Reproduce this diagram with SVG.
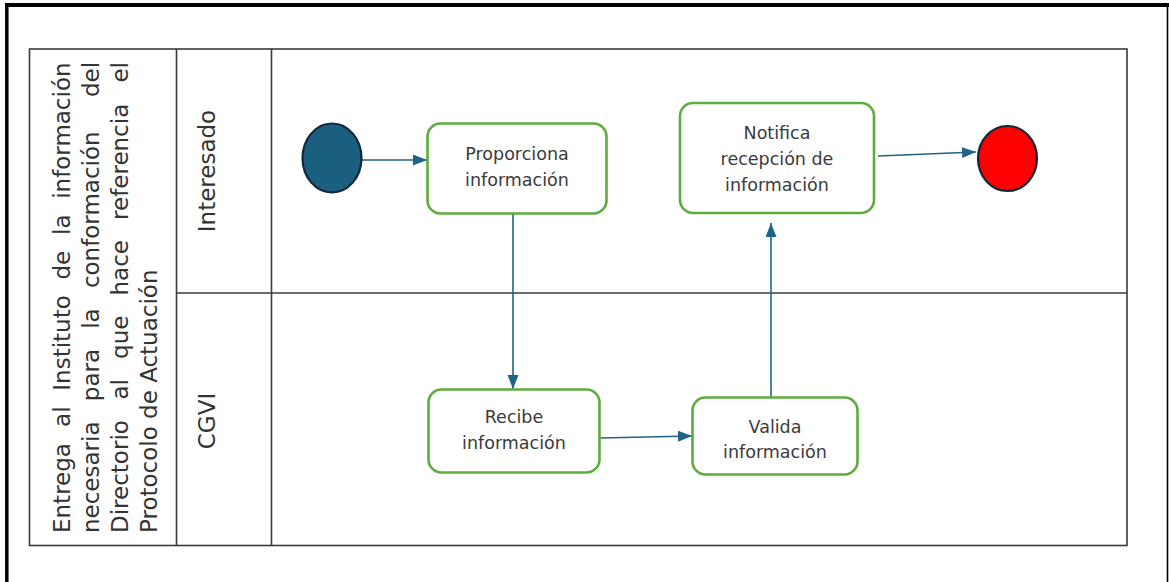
<svg xmlns="http://www.w3.org/2000/svg" width="1169" height="582" viewBox="0 0 1169 582">
<style>
.frame{stroke:#000;fill:none}
.grid{stroke:#3a3a3a;stroke-width:1.6;fill:none}
.title{font-family:"DejaVu Sans",sans-serif;font-size:23px;fill:#333}
.lane{font-family:"DejaVu Sans",sans-serif;font-size:23px;fill:#333;text-anchor:middle}
.task rect{fill:#fff;stroke:#5cad3c;stroke-width:2.6}
.task text{font-family:"DejaVu Sans",sans-serif;font-size:17.5px;fill:#3a3a3a;text-anchor:middle}
.conn{stroke:#1f6385;stroke-width:1.6;fill:none;marker-end:url(#arr)}
</style>
<defs>
<marker id="arr" markerUnits="userSpaceOnUse" markerWidth="16" markerHeight="12" refX="14" refY="5.5" orient="auto">
<path d="M0,0 L14,5.5 L0,11 z" fill="#1f6385"/>
</marker>
</defs>
<rect width="1169" height="582" fill="#fff"/>
<g id="frame">
<line class="frame" x1="5" y1="5" x2="1169" y2="5" stroke-width="4"/>
<line class="frame" x1="6.8" y1="3" x2="6.8" y2="582" stroke-width="3.5"/>
<line class="frame" x1="1167.5" y1="3" x2="1167.5" y2="582" stroke-width="1.6"/>
</g>
<g id="pool">
<rect class="grid" x="29.5" y="49" width="1097.5" height="496.5"/>
<line class="grid" x1="176.5" y1="49" x2="176.5" y2="545.5"/>
<line class="grid" x1="271.5" y1="49" x2="271.5" y2="545.5"/>
<line class="grid" x1="176.5" y1="293" x2="1127" y2="293"/>
</g>
<g id="pool-title">
<text class="title" transform="translate(70,533) rotate(-90)"><tspan x="0">Entrega</tspan><tspan x="106.1">al</tspan><tspan x="142.3">Instituto</tspan><tspan x="253.5">de</tspan><tspan x="298">la</tspan><tspan x="334.2">información</tspan></text>
<text class="title" transform="translate(99,533) rotate(-90)"><tspan x="0">necesaria</tspan><tspan x="131.8">para</tspan><tspan x="204.2">la</tspan><tspan x="244.9">conformación</tspan><tspan x="435.9">del</tspan></text>
<text class="title" transform="translate(128,533) rotate(-90)"><tspan x="0">Directorio</tspan><tspan x="133.5">al</tspan><tspan x="174.1">que</tspan><tspan x="237.5">hace</tspan><tspan x="313.1">referencia</tspan><tspan x="450.4">el</tspan></text>
<text class="title" transform="translate(157,533) rotate(-90)">Protocolo de Actuación</text>
</g>
<g id="lane-interesado">
<text class="lane" transform="translate(215,171) rotate(-90)">Interesado</text>
</g>
<g id="lane-cgvi">
<text class="lane" transform="translate(215,421) rotate(-90)">CGVI</text>
</g>
<g id="connectors">
<path class="conn" d="M362,160 L427,160"/>
<path class="conn" d="M513,214 L513,389"/>
<path class="conn" d="M600,438 L692,436"/>
<path class="conn" d="M771,397 L771,223"/>
<path class="conn" d="M878,156 L976,152"/>
</g>
<g id="start">
<ellipse cx="332" cy="158" rx="29.5" ry="34.5" fill="#1a5e80" stroke="#12283a" stroke-width="2.2"/>
</g>
<g id="end">
<ellipse cx="1007.5" cy="158.5" rx="29.5" ry="32.5" fill="#ff0000" stroke="#12283a" stroke-width="2.2"/>
</g>
<g id="task-proporciona" class="task">
<rect x="427.5" y="123.5" width="179" height="90" rx="13"/>
<text x="517" y="160">Proporciona</text>
<text x="517" y="186">información</text>
</g>
<g id="task-notifica" class="task">
<rect x="680" y="103" width="194" height="110" rx="13"/>
<text x="777" y="139">Notifica</text>
<text x="777" y="165">recepción de</text>
<text x="777" y="191">información</text>
</g>
<g id="task-recibe" class="task">
<rect x="428.5" y="389.5" width="171" height="83" rx="13"/>
<text x="514" y="423">Recibe</text>
<text x="514" y="449">información</text>
</g>
<g id="task-valida" class="task">
<rect x="692.5" y="397.5" width="165" height="77" rx="13"/>
<text x="775" y="433">Valida</text>
<text x="775" y="458">información</text>
</g>
</svg>
